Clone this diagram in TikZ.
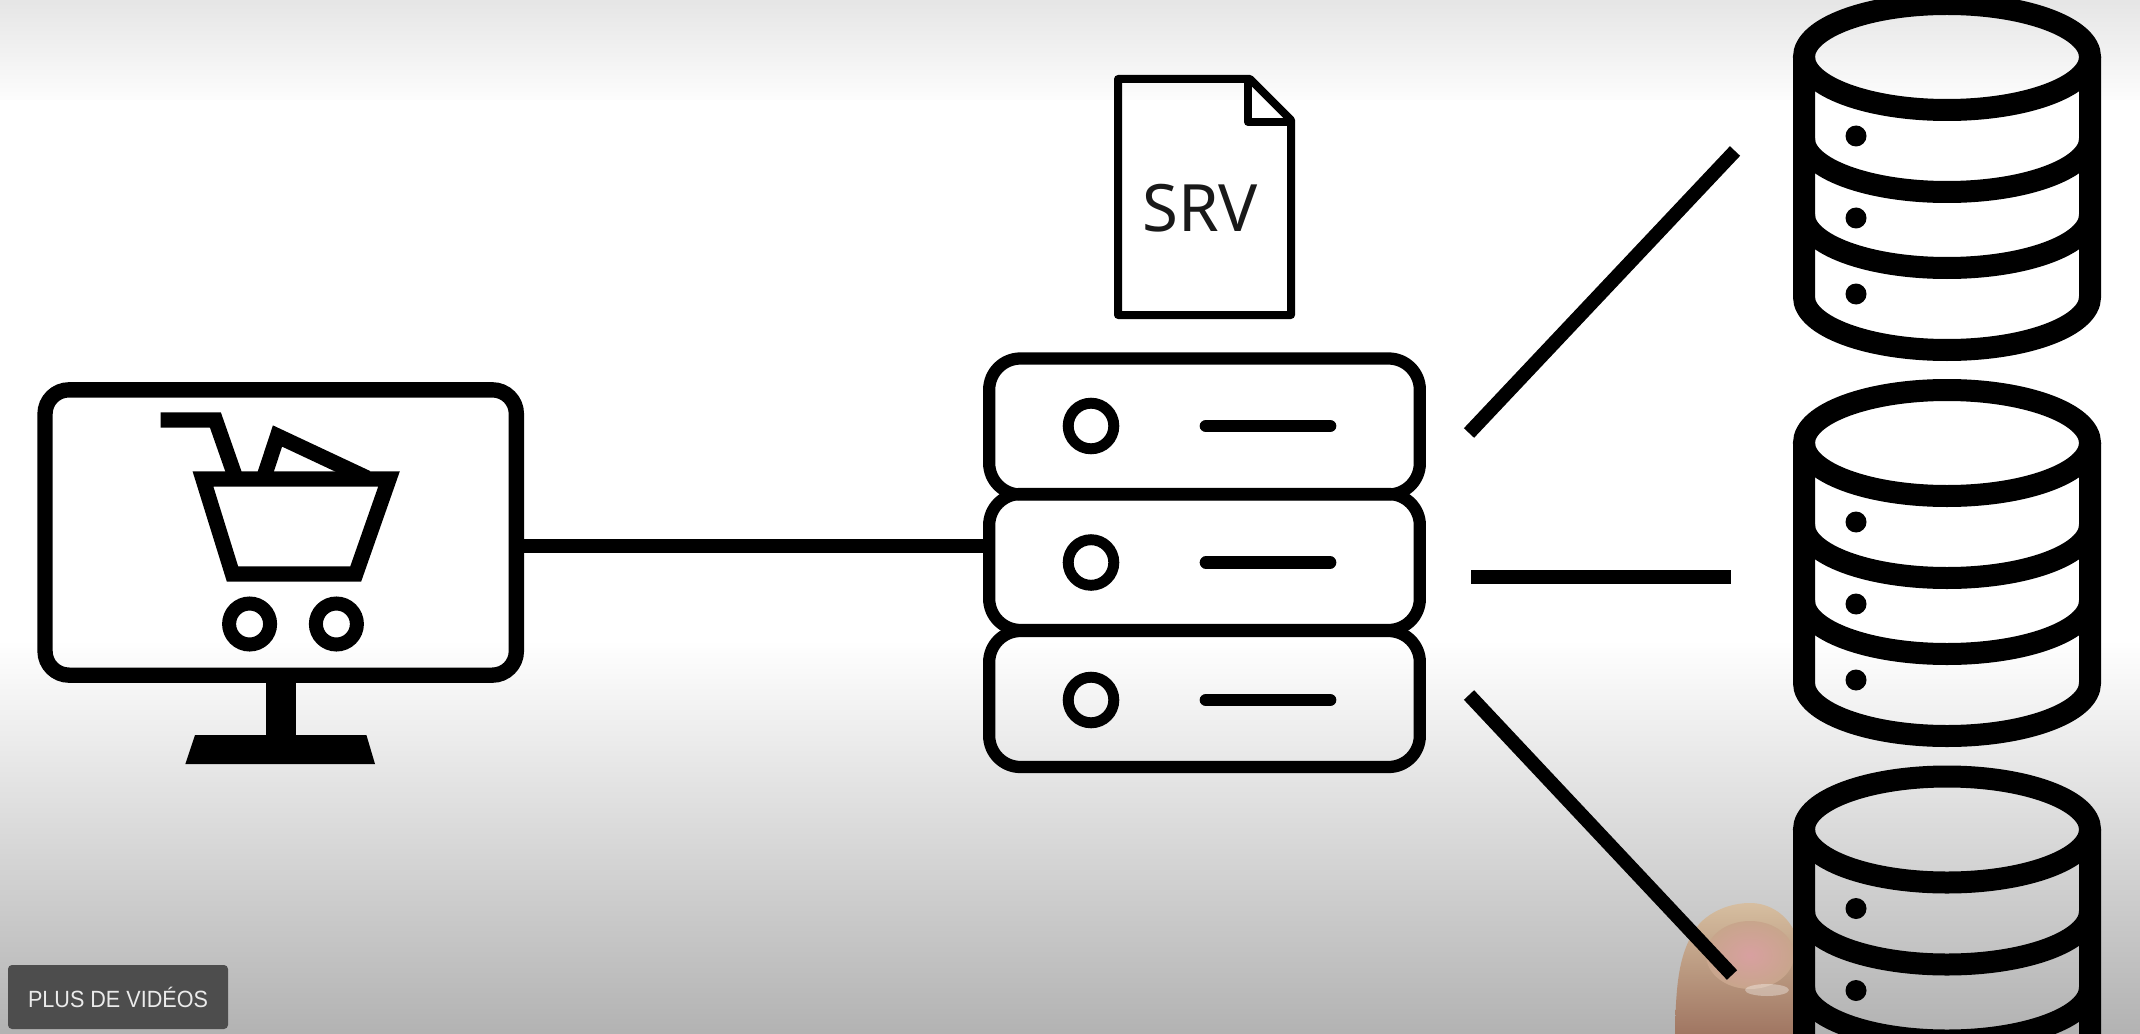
\documentclass[tikz,border=0pt]{standalone}
\usepackage{fontspec}
\newfontfamily\srvfont{Noto Sans}
\newfontfamily\btnfont[FakeStretch=0.92]{Liberation Sans}
\definecolor{btngray}{RGB}{77,77,77}
\definecolor{skintop}{RGB}{214,190,160}
\definecolor{skinmid}{RGB}{200,165,140}
\definecolor{skinlow}{RGB}{160,118,98}
\definecolor{nailpink}{RGB}{216,160,160}
\tikzset{every picture/.style={line width=0.75pt}}
\tikzset{
  screenbox/.style={draw,line width=11.5pt,rounded corners=18pt,minimum width=353.5pt,minimum height=214pt},
  rackbox/.style={draw,line width=9.2pt,rounded corners=23.5pt,minimum width=323pt,minimum height=102pt},
  wire/.style={line width=10.5pt},
  cartline/.style={line width=11.5pt,miter limit=10},
  dbline/.style={line width=16.5pt},
}

\begin{document}
\begin{tikzpicture}[x=0.75pt,y=0.75pt,yscale=-1,xscale=1]
\clip (0,0) rectangle (2140,1034);

%Shape: Background
\fill [white] (0,0) rectangle (2140,1034);
\shade [top color=black!10,middle color=black!3,bottom color=black!1] (0,0) rectangle (2140,100);
\shade [top color=white,middle color=black!15,bottom color=black!30] (0,640) rectangle (2140,1034);

%Shape: Finger
\shade [top color=skintop,bottom color=skinlow] (1675,1034) .. controls (1676,985) and (1678,950) .. (1700,923) .. controls (1715,908) and (1735,903) .. (1750,903) .. controls (1770,903) and (1788,915) .. (1796,935) -- (1796,1034) -- cycle ;
\shade [inner color=nailpink,outer color=skinmid] (1750,955) ellipse (44 and 34);
\fill [white,fill opacity=0.35] (1767,990) ellipse (22 and 6);

%Shape: Monitor
\node (monitor) [screenbox] at (280.7,532.5) {};
\fill (265.7,675) rectangle (295.7,740);
\fill (195,735) -- (366.4,735) -- (375,764) -- (185.4,764) -- cycle ;

%Shape: Cart
\draw [cartline] (160.7,420) -- (215.4,420) -- (235,476);
\draw [cartline] (203,479) -- (389,479) -- (355.7,574) -- (232.5,574) -- cycle ;
\draw [cartline] (264,477) -- (277.5,436) -- (367,478);
\draw [line width=10.5pt] (249.6,624) circle (20.5);
\draw [line width=10.5pt] (336.4,624) circle (20.5);

%Shape: Server
\node (srvtop) [rackbox] at (1204.5,426.5) {};
\node (srvmid) [rackbox] at (1204.5,562) {};
\node (srvbot) [rackbox] at (1204.5,699) {};
\foreach \rowy in {426,562.5,700} {
  \draw [line width=8.2pt] (1091,\rowy) circle (22.8);
  \draw [line width=9.5pt,line cap=round] (1206,\rowy) -- (1330,\rowy);
}

%Shape: File
\draw [line width=6pt,line join=round] (1118,79) -- (1250,79) -- (1291,120) -- (1291,315) -- (1118,315) -- cycle ;
\draw [line width=6pt,line join=round] (1248,79) -- (1248,122) -- (1291,122);
\node (srvlabel) [inner sep=0pt,text=black!90] at (1200,208) {\fontsize{49pt}{49pt}\srvfont SRV};

%Shape: Databases
\foreach \dbtop in {0,386,772.5} {
  \begin{scope}[shift={(0,\dbtop)}]
    \draw [dbline] (1947,57) ellipse (143 and 53);
    \draw [dbline] (1804,57) -- (1804,297) arc[start angle=180,end angle=0,x radius=143,y radius=53] -- (2090,57);
    \draw [dbline] (1804,139) arc[start angle=180,end angle=0,x radius=143,y radius=53];
    \draw [dbline] (1804,215) arc[start angle=180,end angle=0,x radius=143,y radius=53];
    \fill (1856,136) circle (10.5);
    \fill (1856,218) circle (10.5);
    \fill (1856,294) circle (10.5);
  \end{scope}
}

%Straight Lines
\coordinate (cartlink) at (516,546);
\draw [wire] (cartlink) -- (cartlink -| srvmid.west);
\coordinate (upfrom) at (1469,433);
\coordinate (upto) at (1735,151);
\coordinate (midfrom) at (1471,577);
\coordinate (midto) at (1731,577);
\coordinate (lowfrom) at (1469,695);
\coordinate (lowto) at (1732,975);
\draw [wire] (upfrom) -- (upto);
\draw [wire] (midfrom) -- (midto);
\draw [wire] (lowfrom) -- (lowto);

%Shape: Button
\node (morebtn) [fill=btngray,rounded corners=3pt,minimum width=165pt,minimum height=48pt,inner sep=0pt,text=white!92!black] at (118,997) {\fontsize{17.6pt}{17.6pt}\btnfont PLUS DE VIDÉOS};

\end{tikzpicture}
\end{document}
